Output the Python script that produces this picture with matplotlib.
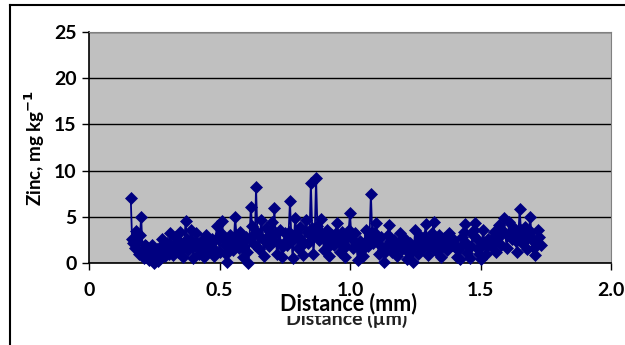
import matplotlib
matplotlib.use("Agg")
import matplotlib.pyplot as plt
from matplotlib.lines import Line2D

# distance along the transect (mm)
distance = [
    0.160, 0.165, 0.170, 0.175, 0.180, 0.185, 0.190, 0.195, 0.200, 0.205,
    0.210, 0.215, 0.220, 0.225, 0.230, 0.235, 0.240, 0.245, 0.250, 0.255,
    0.260, 0.265, 0.270, 0.275, 0.280, 0.285, 0.290, 0.295, 0.300, 0.305,
    0.310, 0.315, 0.320, 0.325, 0.330, 0.335, 0.340, 0.345, 0.350, 0.355,
    0.360, 0.365, 0.370, 0.375, 0.380, 0.385, 0.390, 0.395, 0.400, 0.405,
    0.410, 0.415, 0.420, 0.425, 0.430, 0.435, 0.440, 0.445, 0.450, 0.455,
    0.460, 0.465, 0.470, 0.475, 0.480, 0.485, 0.490, 0.495, 0.500, 0.505,
    0.510, 0.515, 0.520, 0.525, 0.530, 0.535, 0.540, 0.545, 0.550, 0.555,
    0.560, 0.565, 0.570, 0.575, 0.580, 0.585, 0.590, 0.595, 0.600, 0.605,
    0.610, 0.615, 0.620, 0.625, 0.630, 0.635, 0.640, 0.645, 0.650, 0.655,
    0.660, 0.665, 0.670, 0.675, 0.680, 0.685, 0.690, 0.695, 0.700, 0.705,
    0.710, 0.715, 0.720, 0.725, 0.730, 0.735, 0.740, 0.745, 0.750, 0.755,
    0.760, 0.765, 0.770, 0.775, 0.780, 0.785, 0.790, 0.795, 0.800, 0.805,
    0.810, 0.815, 0.820, 0.825, 0.830, 0.835, 0.840, 0.845, 0.850, 0.855,
    0.860, 0.865, 0.870, 0.875, 0.880, 0.885, 0.890, 0.895, 0.900, 0.905,
    0.910, 0.915, 0.920, 0.925, 0.930, 0.935, 0.940, 0.945, 0.950, 0.955,
    0.960, 0.965, 0.970, 0.975, 0.980, 0.985, 0.990, 0.995, 1.000, 1.005,
    1.010, 1.015, 1.020, 1.025, 1.030, 1.035, 1.040, 1.045, 1.050, 1.055,
    1.060, 1.065, 1.070, 1.075, 1.080, 1.085, 1.090, 1.095, 1.100, 1.105,
    1.110, 1.115, 1.120, 1.125, 1.130, 1.135, 1.140, 1.145, 1.150, 1.155,
    1.160, 1.165, 1.170, 1.175, 1.180, 1.185, 1.190, 1.195, 1.200, 1.205,
    1.210, 1.215, 1.220, 1.225, 1.230, 1.235, 1.240, 1.245, 1.250, 1.255,
    1.260, 1.265, 1.270, 1.275, 1.280, 1.285, 1.290, 1.295, 1.300, 1.305,
    1.310, 1.315, 1.320, 1.325, 1.330, 1.335, 1.340, 1.345, 1.350, 1.355,
    1.360, 1.365, 1.370, 1.375, 1.380, 1.385, 1.390, 1.395, 1.400, 1.405,
    1.410, 1.415, 1.420, 1.425, 1.430, 1.435, 1.440, 1.445, 1.450, 1.455,
    1.460, 1.465, 1.470, 1.475, 1.480, 1.485, 1.490, 1.495, 1.500, 1.505,
    1.510, 1.515, 1.520, 1.525, 1.530, 1.535, 1.540, 1.545, 1.550, 1.555,
    1.560, 1.565, 1.570, 1.575, 1.580, 1.585, 1.590, 1.595, 1.600, 1.605,
    1.610, 1.615, 1.620, 1.625, 1.630, 1.635, 1.640, 1.645, 1.650, 1.655,
    1.660, 1.665, 1.670, 1.675, 1.680, 1.685, 1.690, 1.695, 1.700, 1.705,
    1.710, 1.715, 1.720, 1.725, 1.730,
]
# zinc, mg/kg
zinc = [
    7.0, 2.6, 2.2, 1.6, 3.5, 2.4, 1.0, 3.0, 5.0, 1.4,
    0.5, 2.0, 1.8, 1.0, 0.3, 1.2, 2.0, 0.6, 0.0, 1.0,
    1.5, 0.2, 0.4, 1.8, 2.6, 1.4, 0.8, 1.6, 2.2, 1.0,
    3.2, 2.0, 0.9, 1.6, 2.8, 2.0, 1.2, 2.4, 3.4, 1.8,
    0.6, 2.2, 4.5, 2.6, 1.4, 2.0, 3.6, 2.4, 0.5, 1.8,
    3.2, 2.2, 1.0, 1.6, 2.4, 1.4, 0.6, 2.0, 3.0, 1.8,
    1.3, 2.2, 2.6, 1.6, 0.8, 2.6, 4.0, 2.8, 1.2, 3.2,
    4.5, 2.6, 2.0, 1.0, 0.1, 1.8, 3.0, 2.2, 1.4, 2.4,
    5.0, 3.0, 2.3, 1.6, 3.4, 2.2, 0.6, 1.8, 2.8, 1.2,
    0.0, 2.6, 6.1, 4.0, 3.0, 2.0, 8.2, 3.4, 1.5, 2.8,
    4.7, 2.6, 0.8, 2.4, 3.8, 2.6, 1.8, 3.0, 4.4, 2.4,
    5.9, 3.2, 1.0, 2.2, 3.6, 2.0, 0.7, 1.8, 3.2, 2.4,
    2.0, 3.4, 6.7, 3.0, 0.5, 2.6, 4.9, 3.2, 1.6, 2.8,
    3.9, 2.4, 0.9, 2.2, 4.7, 3.4, 2.2, 3.0, 8.7, 3.8,
    1.0, 3.2, 9.2, 4.0, 2.5, 3.4, 4.8, 3.0, 1.4, 2.6,
    3.6, 2.2, 0.8, 2.0, 3.0, 2.4, 2.0, 3.2, 4.3, 2.6,
    1.2, 2.4, 3.4, 2.0, 0.6, 1.8, 2.8, 3.6, 5.4, 3.0,
    1.6, 2.4, 3.2, 1.8, 0.3, 1.6, 2.4, 1.4, 0.8, 2.2,
    3.6, 2.4, 1.8, 3.0, 7.5, 3.4, 2.2, 3.2, 4.3, 2.6,
    1.0, 2.0, 2.8, 1.4, 0.1, 1.2, 2.0, 3.0, 4.1, 2.4,
    1.2, 1.8, 2.5, 1.6, 0.8, 2.0, 3.3, 2.4, 1.5, 2.2,
    2.6, 1.4, 0.4, 1.6, 2.2, 1.2, 0.1, 1.8, 3.6, 2.2,
    1.0, 2.0, 2.9, 2.2, 1.6, 2.8, 4.2, 2.4, 0.9, 1.8,
    2.4, 3.2, 4.4, 2.6, 1.3, 2.2, 3.0, 1.8, 0.7, 1.8,
    2.7, 2.0, 1.4, 2.4, 3.2, 2.6, 1.9, 2.2, 2.5, 1.6,
    0.6, 1.4, 0.4, 1.8, 2.8, 3.4, 4.2, 2.2, 1.1, 1.6,
    0.5, 1.8, 3.0, 3.6, 4.3, 2.6, 1.5, 1.0, 0.4, 2.0,
    3.6, 2.2, 1.0, 1.8, 2.6, 2.2, 1.8, 2.6, 3.4, 2.4,
    1.2, 2.6, 4.1, 3.0, 2.0, 3.4, 4.9, 3.2, 1.6, 3.0,
    4.4, 3.4, 2.6, 3.2, 3.8, 2.4, 1.2, 3.0, 5.8, 3.6,
    2.2, 3.2, 3.9, 2.6, 1.5, 3.0, 5.0, 3.4, 2.4, 1.6,
    0.9, 2.2, 3.6, 2.8, 2.0,
]

x_ticks = [0, 0.5, 1.0, 1.5, 2.0]
x_labels = ["0", "0.5", "1.0", "1.5", "2.0"]
y_ticks = [0, 5, 10, 15, 20, 25]

plt.rcParams['font.family'] = ['Lato', 'DejaVu Sans']
plt.rcParams['font.weight'] = 'bold'

fig = plt.figure(figsize=(6.25, 3.45), dpi=100)
ax = fig.add_axes([89 / 625, 1 - 263 / 345, 522 / 625, 231 / 345])
ax.set_facecolor('#c0c0c0')

ax.plot(distance, zinc, color='#000080', lw=1.3, marker='D', markersize=6,
        markeredgewidth=0.5, zorder=3, clip_on=False)

ax.set_xlim(0, 2.0)
ax.set_ylim(0, 25)
ax.set_xticks(x_ticks)
ax.set_xticklabels(x_labels)
ax.set_yticks(y_ticks)
ax.yaxis.grid(True, color='black', lw=1.0)
ax.set_axisbelow(True)
ax.tick_params(labelsize=14, length=5, width=1, direction='out', pad=9)
ax.tick_params(axis='y', pad=4)
for lab in ax.get_xticklabels() + ax.get_yticklabels():
    lab.set_fontweight('bold')
for lab in ax.get_xticklabels():
    lab.set_bbox(dict(facecolor='white', edgecolor='none', pad=0))
for s in ['top', 'right']:
    ax.spines[s].set_color('#808080')
for s in ['left', 'bottom']:
    ax.spines[s].set_color('black')
    ax.spines[s].set_linewidth(1.2)

ax.set_ylabel('Zinc, mg kg$^{\\mathbf{-1}}$', fontsize=13.5, fontweight='bold', labelpad=5)

# old label peeking out under the new one; both sit below the tick labels
fig.text(347 / 625, 1 - 325 / 345, 'Distance (µm)', fontsize=14, fontweight='bold',
         ha='center', va='baseline', color='#222222', zorder=-2)
fig.text(348 / 625, 1 - 310 / 345, 'Distance (mm)', fontsize=15.5, fontweight='bold',
         ha='center', va='baseline', zorder=-1,
         bbox=dict(facecolor='white', edgecolor='none', pad=1.5))

# outer chart frame (top and left edges visible)
fig.add_artist(Line2D([10 / 625, 1.0], [1 - 5 / 345] * 2, color='black', lw=1.5))
fig.add_artist(Line2D([10 / 625] * 2, [0, 1 - 5 / 345], color='black', lw=1.5))

fig.savefig('out.png', dpi=100)
